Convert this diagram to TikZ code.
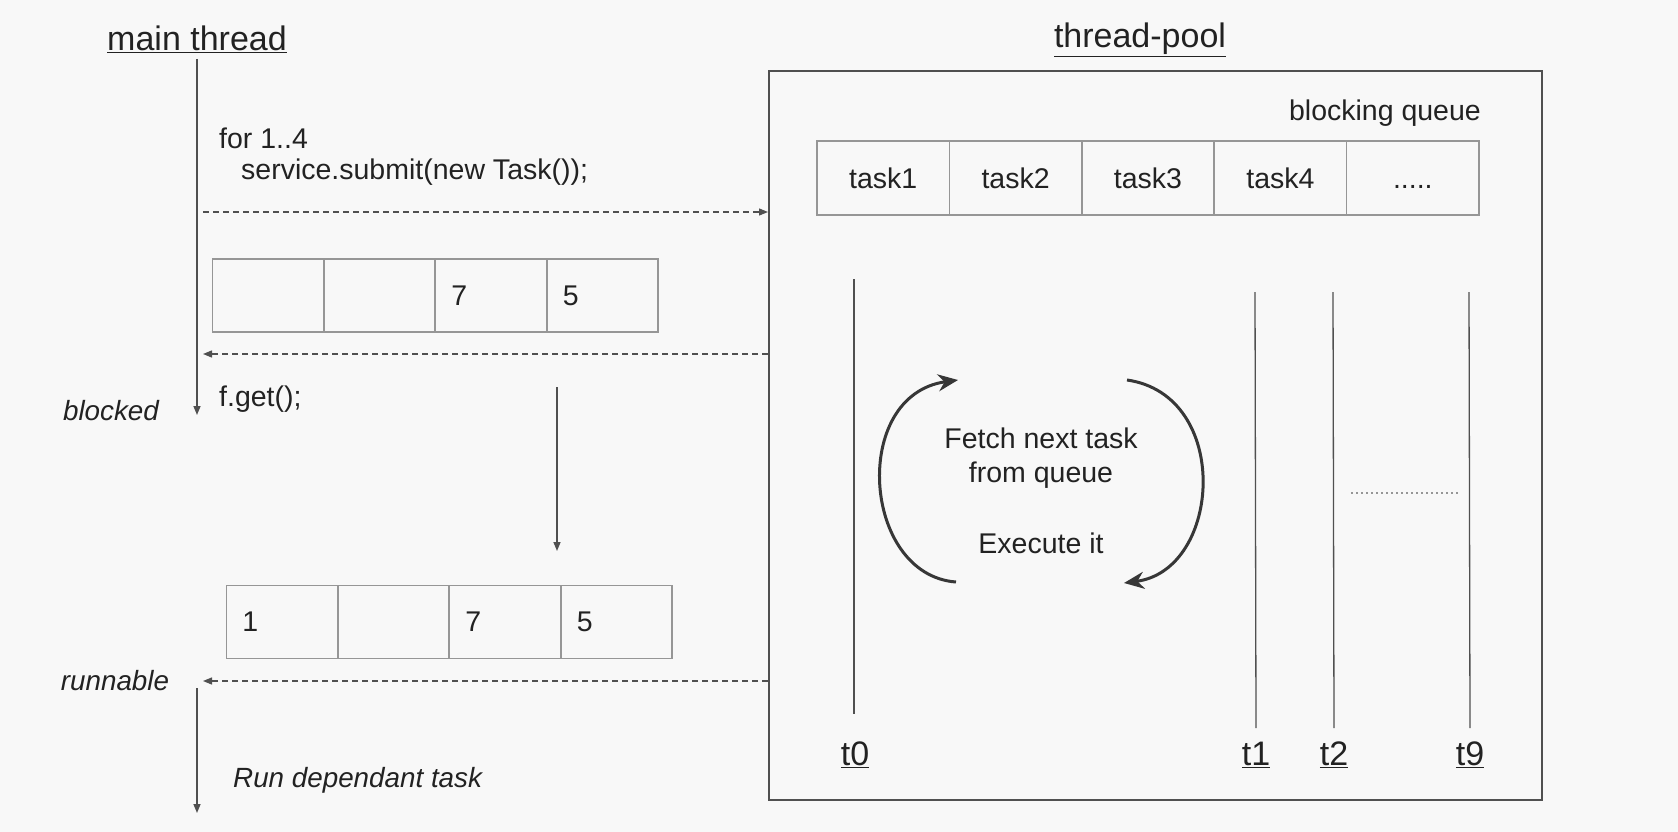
\documentclass[tikz,border=0pt]{standalone}
\usepackage{fontspec}
\setmainfont{Liberation Sans}
\usetikzlibrary{arrows.meta}

\definecolor{bgcol}{RGB}{248,248,248}
\definecolor{inkcol}{RGB}{34,34,34}
\definecolor{linecol}{RGB}{80,80,80}
\definecolor{cellcol}{RGB}{150,150,150}
\definecolor{loopcol}{RGB}{55,55,55}

\tikzset{
  txt/.style={font=\fontsize{28.5}{34}\selectfont, text=inkcol, inner sep=0pt},
  head/.style={font=\fontsize{34}{40}\selectfont, text=inkcol, inner sep=0pt},
  state/.style={font=\fontsize{27.8}{34}\selectfont\itshape, text=inkcol, inner sep=0pt},
  cell/.style={txt, draw=cellcol, line width=1.5pt, outer sep=0pt,
    minimum height=73pt, text width=79pt, inner xsep=16pt, inner ysep=0pt, align=left},
  qcell/.style={txt, draw=cellcol, line width=1.5pt, outer sep=0pt,
    minimum height=74pt, minimum width=132.4pt, align=center},
  life/.style={draw=linecol, line width=1.5pt},
  call/.style={draw=linecol, line width=1.3pt, dash pattern=on 6pt off 4pt},
  tip/.style={-{Triangle[length=9pt,width=7pt]}},
  spin/.style={draw=loopcol, line width=3pt, -{Stealth[length=20pt,width=17pt]}}
}

\begin{document}
\begin{tikzpicture}[x=1pt,y=-1pt]
\fill[bgcol] (0,0) rectangle (1678,832);

% main thread side
\node[head] (mainhd) at (197,39) {\underline{main thread}};
\node[txt, anchor=west] (forln) at (219,138) {for 1..4};
\node[txt, anchor=west] (submit) at (241,172) {service.submit(new Task());};
\node[txt, anchor=west] (fget) at (219,399) {f.get();};
\node[state] (blocked) at (111,411) {blocked};
\node[state] (runnable) at (115,681) {runnable};
\node[state, anchor=west] (rundep) at (233,780) {Run dependant task};

\coordinate (m0) at (197,59);
\coordinate (m1) at (197,415);
\coordinate (m2) at (197,688);
\coordinate (m3) at (197,813);
\coordinate (sub) at (203,212);
\coordinate (ret) at (203,354);
\coordinate (wake) at (203,681);
\coordinate (d0) at (557,387);
\coordinate (d1) at (557,551);

% futures before and after
\node[cell] (a1) at (267.75,295.5) {};
\node[cell] (a2) at (379.25,295.5) {};
\node[cell] (a3) at (490.75,295.5) {7};
\node[cell] (a4) at (602.25,295.5) {5};

\node[cell] (b1) at (281.75,622) {1};
\node[cell] (b2) at (393.25,622) {};
\node[cell] (b3) at (504.75,622) {7};
\node[cell] (b4) at (616.25,622) {5};

% thread pool side
\node[head] (poolhd) at (1140,40) {\underline{thread-pool}};
\node[draw=linecol, line width=2pt, minimum width=773pt, minimum height=729pt, inner sep=0pt] (pool) at (1155.5,435.5) {};
\node[txt, anchor=east] (bq) at (1481,113) {blocking queue};

\node[qcell] (q1) at (883.2,178) {task1};
\node[qcell] (q2) at (1015.6,178) {task2};
\node[qcell] (q3) at (1148,178) {task3};
\node[qcell] (q4) at (1280.4,178) {task4};
\node[qcell] (q5) at (1412.8,178) {\vphantom{task}.....};

\node[txt, align=center] (fetch) at (1041,458) {Fetch next task\\from queue};
\node[txt] (exec) at (1041,543) {Execute it};

\node[head] (t0) at (855,755) {\underline{t0}};
\node[head] (t1) at (1256,755) {\underline{t1}};
\node[head] (t2) at (1334,755) {\underline{t2}};
\node[head] (t9) at (1470,755) {\underline{t9}};

\coordinate (t0a) at (854,279);
\coordinate (t0b) at (854,714);
\coordinate (t1a) at (1255,292);
\coordinate (t1b) at (1256,728);
\coordinate (t2a) at (1333,292);
\coordinate (t2b) at (1334,728);
\coordinate (t9a) at (1469,292);
\coordinate (t9b) at (1470,728);
\coordinate (dots0) at (1351,493);
\coordinate (dots1) at (1459,493);

\coordinate (la) at (956,582);
\coordinate (lb) at (958,380);
\coordinate (ra) at (1127,380);
\coordinate (rb) at (1124,583);

\path[life,tip] (m0) -- (m1);
\path[life,tip] (m2) -- (m3);
\path[life,tip] (d0) -- (d1);
\path[call,tip] (sub) -- (sub -| pool.west);
\path[call,tip] (ret -| pool.west) -- (ret);
\path[call,tip] (wake -| pool.west) -- (wake);

\path[draw=linecol, line width=1.3pt] (t0a) -- (t0b);
\path[draw=linecol, line width=1.3pt] (t1a) -- (t1b);
\path[draw=linecol, line width=1.3pt] (t2a) -- (t2b);
\path[draw=linecol, line width=1.3pt] (t9a) -- (t9b);
\path[draw=cellcol, line width=1.2pt, dash pattern=on 1.5pt off 3.5pt] (dots0) -- (dots1);

\path[spin] (la) .. controls (862,575) and (850,395) .. (lb);
\path[spin] (ra) .. controls (1232,395) and (1222,570) .. (rb);
\end{tikzpicture}
\end{document}
